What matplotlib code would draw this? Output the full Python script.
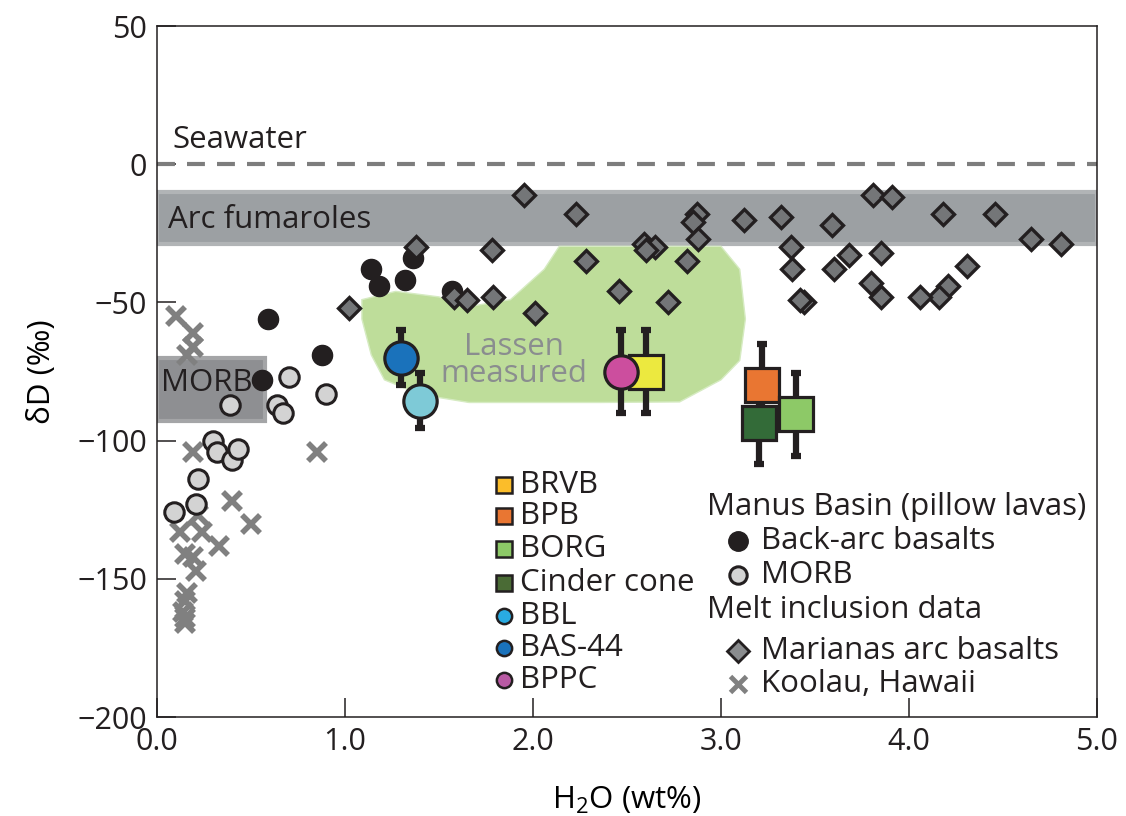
import matplotlib
matplotlib.use("Agg")
import matplotlib.pyplot as plt
from matplotlib.ticker import FormatStrFormatter

plt.rcParams['font.family'] = ['Open Sans', 'DejaVu Sans']
plt.rcParams['mathtext.fontset'] = 'custom'
plt.rcParams['mathtext.rm'] = 'Open Sans'
plt.rcParams['text.color'] = '#231f20'

INK = '#231f20'
FS = 22.5

# Manus Basin pillow lavas
backarc_h2o = [0.59, 0.56, 0.88, 1.14, 1.18, 1.32, 1.36, 1.57]
backarc_dd = [-56, -78, -69, -38, -44, -42, -34, -46]

morb_h2o = [0.70, 0.39, 0.64, 0.67, 0.90, 0.30, 0.32, 0.40, 0.43, 0.22, 0.21, 0.09]
morb_dd = [-77, -87, -87, -90, -83, -100, -104, -107, -103, -114, -123, -126]

# Melt inclusion data
koolau_h2o = [0.10, 0.19, 0.19, 0.16, 0.19, 0.85, 0.40, 0.50, 0.22, 0.12,
              0.24, 0.33, 0.15, 0.19, 0.21, 0.16, 0.15, 0.14, 0.15, 0.15]
koolau_dd = [-55, -61, -66, -69, -104, -104, -122, -130, -127, -133,
             -133, -138, -141, -142, -147, -155, -158, -162, -164, -166]

marianas_h2o = [1.95, 2.23, 1.38, 1.78, 2.28, 1.02, 1.58, 1.65, 1.79, 2.01,
                2.46, 2.72, 2.59, 2.65, 2.60, 2.82, 2.87, 2.85, 2.88, 3.12,
                3.32, 3.37, 3.38, 3.59, 3.68, 3.60, 3.85, 3.81, 3.91, 3.80,
                3.85, 3.44, 3.42, 4.18, 4.46, 4.31, 4.21, 4.16, 4.06, 4.65, 4.81]
marianas_dd = [-11, -18, -30, -31, -35, -52, -48, -49, -48, -54,
               -46, -50, -29, -30, -31, -35, -18, -21, -27, -20,
               -19, -30, -38, -22, -33, -38, -32, -11, -12, -43,
               -48, -50, -49, -18, -18, -37, -44, -48, -48, -27, -29]

# Lassen samples with uncertainties
sample_names = ['BRVB', 'BPB', 'BORG', 'Cinder cone', 'BBL', 'BAS-44', 'BPPC']
sample_h2o = [2.60, 3.22, 3.40, 3.20, 1.40, 1.30, 2.47]
sample_dd = [-75, -80, -90.5, -93.5, -85.5, -70, -75]
sample_err = [15, 15, 15, 15, 10, 10, 15]
sample_marker = ['s', 's', 's', 's', 'o', 'o', 'o']
sample_color = ['#ece93f', '#e97632', '#8dc967', '#336b38', '#7ecad7', '#1a72bb', '#cc4e9e']
legend_color = ['#fbbd2a', '#e97632', '#8dc967', '#4a6b35', '#29abe2', '#1a72bb', '#b95aa4']
draw_order = ['BRVB', 'BPPC', 'BPB', 'Cinder cone', 'BORG', 'BAS-44', 'BBL']

# Lassen measured field outline
lassen_h2o = [1.09, 1.27, 1.50, 1.66, 1.88, 2.06, 2.14, 3.00, 3.10, 3.13,
              3.10, 3.00, 2.78, 2.36, 1.66, 1.40, 1.21, 1.14, 1.09]
lassen_dd = [-49, -46, -48, -51.5, -49, -38, -29.7, -29.7, -38, -56,
             -71, -78, -86, -86.2, -86.2, -83.3, -78, -69, -56]

seawater_dd = 0
fumarole_dd = (-29, -10)
morb_box_h2o = (0.0, 0.574)
morb_box_dd = (-93, -70)

fig = plt.figure(figsize=(11.26, 8.16), dpi=100)
ax = fig.add_axes([0.1394, 0.1213, 0.8348, 0.8468])

ax.set_xlim(0, 5)
ax.set_ylim(-200, 50)

# background fields
ax.axhspan(fumarole_dd[0], fumarole_dd[1], facecolor='#9ca0a3', edgecolor='#b1b4b6', lw=3, zorder=1)
ax.axhline(seawater_dd, color='#7d7d7d', lw=3, dashes=(4.3, 2.9), zorder=2)
ax.fill(lassen_h2o, lassen_dd, facecolor='#bedd9a', edgecolor='#d6ebc2', lw=1, zorder=1)
ax.add_patch(plt.Rectangle((morb_box_h2o[0], morb_box_dd[0]),
                           morb_box_h2o[1] - morb_box_h2o[0], morb_box_dd[1] - morb_box_dd[0],
                           facecolor='#8e8f92', edgecolor='#a4a5a7', lw=3, zorder=1))

ax.text(0.08, 3.5, 'Seawater', fontsize=FS, va='bottom', zorder=2)
ax.text(0.06, -20, 'Arc fumaroles', fontsize=FS, va='center', zorder=2)
ax.text(0.02, -79, 'MORB', fontsize=FS, va='center', zorder=2)
ax.text(1.9, -71, 'Lassen\nmeasured', fontsize=FS, color='#8a8d8f', ha='center', va='center',
        linespacing=0.9, zorder=2)

# data points
ax.plot(koolau_h2o, koolau_dd, 'x', color='#808080', ms=12.5, mew=4, zorder=3)
ax.plot(morb_h2o, morb_dd, 'o', mfc='#d3d3d3', mec=INK, ms=14, mew=2.2, zorder=3)
ax.plot(backarc_h2o, backarc_dd, 'o', color=INK, ms=14.5, zorder=3)
ax.plot(marianas_h2o, marianas_dd, 'D', mfc='#747678', mec=INK, ms=11, mew=2.4, zorder=4)

for i, name in enumerate(sample_names):
    ax.errorbar(sample_h2o[i], sample_dd[i], yerr=sample_err[i], fmt='none',
                ecolor=INK, elinewidth=4.5, capsize=3.4, capthick=4.5, zorder=5)
for k, name in enumerate(draw_order):
    i = sample_names.index(name)
    ax.plot(sample_h2o[i], sample_dd[i], sample_marker[i], mfc=sample_color[i], mec=INK,
            ms=24, mew=2.3, zorder=6 + k)

# legend, left block
lx, tx = 0.369, 0.386
rows = [0.336, 0.291, 0.243, 0.194, 0.146, 0.100, 0.054]
for i, name in enumerate(sample_names):
    ax.plot(lx, rows[i], sample_marker[i], transform=ax.transAxes, mfc=legend_color[i],
            mec=INK, ms=11, mew=1.8, clip_on=False, zorder=20)
    ax.text(tx, rows[i], name, transform=ax.transAxes, fontsize=FS, va='center', zorder=20)

# legend, right block
hx, mx, rx = 0.585, 0.618, 0.643
ax.text(hx, 0.304, 'Manus Basin (pillow lavas)', transform=ax.transAxes, fontsize=FS, va='center')
ax.plot(mx, 0.255, 'o', transform=ax.transAxes, color=INK, ms=14)
ax.text(rx, 0.255, 'Back-arc basalts', transform=ax.transAxes, fontsize=FS, va='center')
ax.plot(mx, 0.205, 'o', transform=ax.transAxes, mfc='#d3d3d3', mec=INK, ms=12.5, mew=2.2)
ax.text(rx, 0.205, 'MORB', transform=ax.transAxes, fontsize=FS, va='center')
ax.text(hx, 0.155, 'Melt inclusion data', transform=ax.transAxes, fontsize=FS, va='center')
ax.plot(mx, 0.096, 'D', transform=ax.transAxes, mfc='#8a8c8e', mec=INK, ms=11, mew=2)
ax.text(rx, 0.096, 'Marianas arc basalts', transform=ax.transAxes, fontsize=FS, va='center')
ax.plot(mx, 0.048, 'x', transform=ax.transAxes, color='#808080', ms=11, mew=3.5)
ax.text(rx, 0.048, 'Koolau, Hawaii', transform=ax.transAxes, fontsize=FS, va='center')

# axes styling
ax.set_xticks([0, 1, 2, 3, 4, 5])
ax.set_yticks([-200, -150, -100, -50, 0, 50])
ax.xaxis.set_major_formatter(FormatStrFormatter('%.1f'))
ax.tick_params(direction='in', length=14, width=1.1, color=INK, labelsize=22,
               labelcolor=INK, pad=7)
for s in ax.spines.values():
    s.set_color(INK)
    s.set_linewidth(1.1)

ax.set_xlabel(r'H$_{\rm 2}$O (wt%)', fontsize=FS, labelpad=20)
ax.set_ylabel('δD (‰)', fontsize=FS, labelpad=15)

fig.savefig('out.png', dpi=100)
